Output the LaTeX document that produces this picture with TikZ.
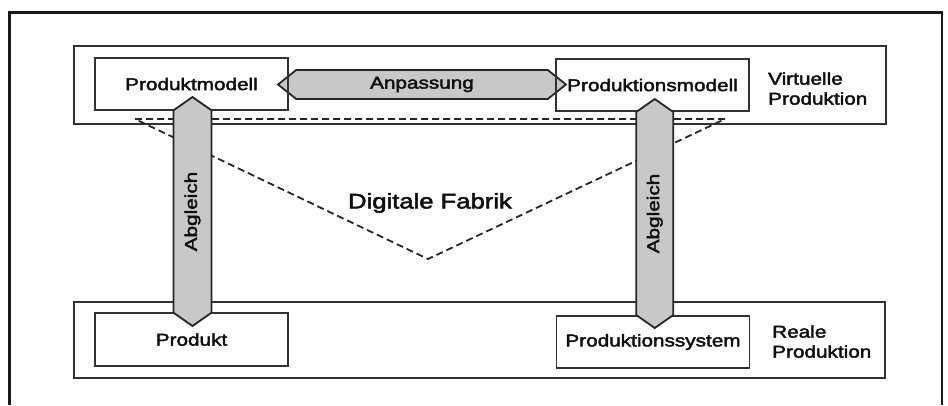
\documentclass[tikz,border=0pt]{standalone}
\usepackage{fontspec}
\setmainfont[FakeStretch=1.22,FakeBold=2.5]{Liberation Sans}
\usetikzlibrary{shapes.arrows,calc,backgrounds}
\definecolor{arrowgray}{RGB}{200,200,200}
\definecolor{linegray}{RGB}{50,50,50}
\definecolor{textgray}{RGB}{15,15,15}
\tikzset{
  band/.style={draw=linegray,line width=1.8pt},
  modbox/.style={draw=linegray,line width=1.8pt,minimum width=193pt,minimum height=52pt,inner sep=0pt,text=textgray,font=\fontsize{17}{20}\selectfont},
  blockarrow/.style={double arrow,double arrow head extend=0pt,draw=black!85,fill=arrowgray,line width=1.8pt,inner sep=0pt,text=textgray,font=\fontsize{17}{20}\selectfont},
  bandlabel/.style={anchor=west,align=left,inner sep=0pt,text=textgray,font=\fontsize{17}{20}\selectfont},
  fabricline/.style={draw=black!85,line width=1.8pt,dash pattern=on 7pt off 4pt}
}
\begin{document}
\begin{tikzpicture}[x=1pt,y=-1pt]
\useasboundingbox (0,0) rectangle (948,405);
\draw[line width=2.8pt,black!90] (9.5,405) -- (9.5,12.5) -- (942,12.5) -- (942,405);
\draw[band] (74,46) rectangle (886,124);
\draw[band] (74,302) rectangle (885,378);
\node[bandlabel] (virt) at (768,88.5) {Virtuelle\\Produktion};
\node[bandlabel] (real) at (772,341.5) {Reale\\Produktion};
\coordinate (fl) at (135,119);
\coordinate (fr) at (725,119);
\coordinate (fb) at (428,259);
\draw[fabricline] (fl) -- (fr) -- (fb) -- cycle;
\node[text=textgray,font=\fontsize{21}{24}\selectfont] (fabrik) at (430,203) {Digitale Fabrik};
\node[modbox] (pmod) at (191.5,84) {Produktmodell};
\node[modbox] (psmod) at (652.5,85) {Produktionsmodell};
\node[modbox,minimum height=53pt] (prod) at (191.5,339.5) {Produkt};
\node[modbox] (psys) at (653,342) {Produktionssystem};
\begin{pgfonlayer}{background}
\node[blockarrow,minimum height=288pt,minimum width=29pt,double arrow tip angle=77] (anp)
  at ($(pmod.east)!0.5!(psmod.west)$) {Anpassung};
\end{pgfonlayer}
\node[blockarrow,rotate=90,minimum height=229pt,minimum width=38pt,double arrow tip angle=110] (abg1)
  at ($(pmod.south)!0.5!(prod.north)+(1,0)$) {Abgleich};
\node[blockarrow,rotate=90,minimum height=229pt,minimum width=37pt,double arrow tip angle=110] (abg2)
  at ($(psmod.south)!0.5!(psys.north)+(2,0)$) {Abgleich};
\end{tikzpicture}
\end{document}
